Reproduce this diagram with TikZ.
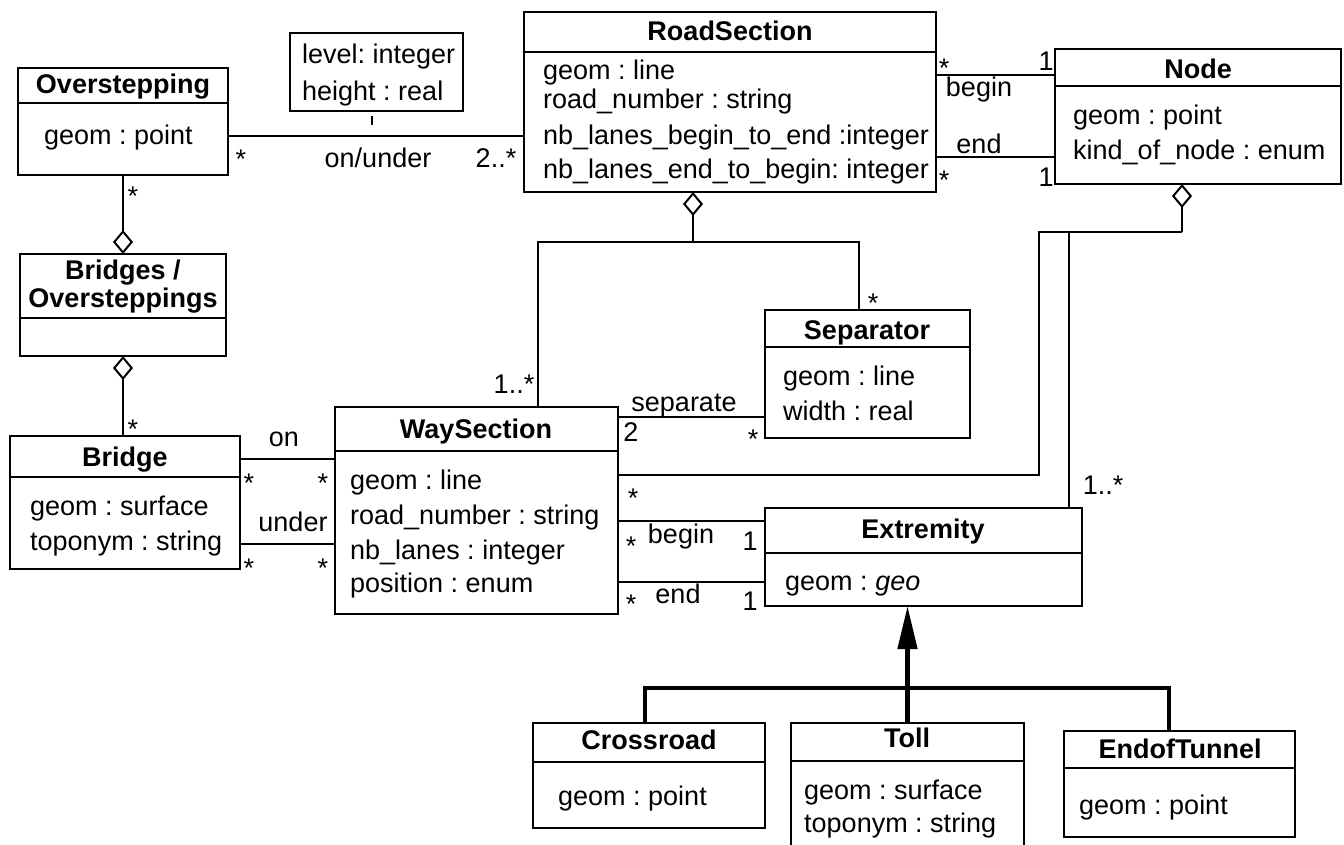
\documentclass[tikz,border=0pt]{standalone}
\usepackage{fontspec}
\setmainfont{Liberation Sans}
\usetikzlibrary{arrows.meta,fit}
\frenchspacing
\begin{document}
\begin{tikzpicture}[x=1pt,y=-1pt,
  ln/.style={line width=2pt},
  cls/.style={draw, line width=2pt, inner sep=0pt, outer sep=0pt},
  txt/.style={font=\fontsize{27}{32}\selectfont, inner sep=0pt, text height=19pt, text depth=5pt},
  ttl/.style={txt, font=\fontsize{27}{32}\selectfont\bfseries},
  att/.style={txt, anchor=west},
  lbl/.style={txt},
  star/.style={txt, yshift=-8pt},
  agg/.style={ln, -{Diamond[open, length=24pt, width=20pt]}},
  gen/.style={line width=4.5pt},
]
\useasboundingbox (0,0) rectangle (1344,844);
\clip (0,0) rectangle (1344,844);

% ---------- classes ----------
% Overstepping
\node[cls, fit={(18,68) (228,175)}] (ov) {};
\draw[ln] (ov.west |- 0,103) -- (ov.east |- 0,103);
\node[ttl] (ovt) at (123,86) {Overstepping};
\node[att] (ova) at (44,137) {geom : point};

% association attributes box
\node[cls, fit={(290,33) (463,111)}] (as) {};
\node[att] (as1) at (302,56) {level: integer};
\node[att] (as2) at (302,93) {height : real};

% RoadSection
\node[cls, fit={(524,12) (936,192)}] (rs) {};
\draw[ln] (rs.west |- 0,52) -- (rs.east |- 0,52);
\node[ttl] (rst) at (730,33) {RoadSection};
\node[att] (rs1) at (543,72) {geom : line};
\node[att] (rs2) at (543,101) {road\_number : string};
\node[att] (rs3) at (543,137) {nb\_lanes\_begin\_to\_end :integer};
\node[att] (rs4) at (543,171) {nb\_lanes\_end\_to\_begin: integer};

% Node
\node[cls, fit={(1055,49) (1341,184)}] (nd) {};
\draw[ln] (nd.west |- 0,86) -- (nd.east |- 0,86);
\node[ttl] (ndt) at (1198,71) {Node};
\node[att] (nd1) at (1073,117) {geom : point};
\node[att] (nd2) at (1073,152) {kind\_of\_node : enum};

% Bridges / Oversteppings
\node[cls, fit={(20,254) (226,356)}] (bo) {};
\draw[ln] (bo.west |- 0,318) -- (bo.east |- 0,318);
\node[ttl] (bot1) at (123,272) {Bridges /};
\node[ttl] (bot2) at (123,300) {Oversteppings};

% Bridge
\node[cls, fit={(10,436) (240,569)}] (br) {};
\draw[ln] (br.west |- 0,477) -- (br.east |- 0,477);
\node[ttl] (brt) at (125,459) {Bridge};
\node[att] (br1) at (30,508) {geom : surface};
\node[att] (br2) at (30,543) {toponym : string};

% WaySection
\node[cls, fit={(335,407) (618,614)}] (ws) {};
\draw[ln] (ws.west |- 0,451) -- (ws.east |- 0,451);
\node[ttl] (wst) at (476,431) {WaySection};
\node[att] (ws1) at (350,482) {geom : line};
\node[att] (ws2) at (350,517) {road\_number : string};
\node[att] (ws3) at (350,552) {nb\_lanes : integer};
\node[att] (ws4) at (350,585) {position : enum};

% Separator
\node[cls, fit={(765,310) (970,438)}] (sp) {};
\draw[ln] (sp.west |- 0,347) -- (sp.east |- 0,347);
\node[ttl] (spt) at (867,332) {Separator};
\node[att] (sp1) at (783,378) {geom : line};
\node[att] (sp2) at (783,413) {width : real};

% Extremity
\node[cls, fit={(765,508) (1082,606)}] (ex) {};
\draw[ln] (ex.west |- 0,553) -- (ex.east |- 0,553);
\node[ttl] (ext) at (923,531) {Extremity};
\node[att] (ex1) at (785,583) {geom : \textit{geo}};

% Crossroad
\node[cls, fit={(533,723) (765,828)}] (cr) {};
\draw[ln] (cr.west |- 0,762) -- (cr.east |- 0,762);
\node[ttl] (crt) at (649,742) {Crossroad};
\node[att] (cr1) at (558,798) {geom : point};

% Toll
\node[cls, fit={(791,723) (1024,880)}] (tl) {};
\draw[ln] (tl.west |- 0,761) -- (tl.east |- 0,761);
\node[ttl] (tlt) at (907,740) {Toll};
\node[att] (tl1) at (804,792) {geom : surface};
\node[att] (tl2) at (804,825) {toponym : string};

% EndofTunnel
\node[cls, fit={(1064,731) (1295,837)}] (et) {};
\draw[ln] (et.west |- 0,768) -- (et.east |- 0,768);
\node[ttl] (ett) at (1180,751) {EndofTunnel};
\node[att] (et1) at (1079,807) {geom : point};

% ---------- helper coordinates ----------
\coordinate (h1) at (0,136);
\coordinate (h2) at (0,75);
\coordinate (h3) at (0,157);
\coordinate (h4) at (0,459);
\coordinate (h5) at (0,544);
\coordinate (h6) at (0,417);
\coordinate (h7) at (0,475);
\coordinate (h8) at (0,521);
\coordinate (h9) at (0,582);
\coordinate (k1) at (538,242);
\coordinate (k2) at (693,242);
\coordinate (k3) at (859,242);
\coordinate (k4) at (1039,232);
\coordinate (k5) at (1069,232);
\coordinate (k6) at (1182,232);
\coordinate (gl) at (645,688);
\coordinate (gr) at (1169,688);

% ---------- connectors ----------
\draw[ln] (ov.east |- h1) -- (rs.west |- h1);
\draw[ln, dash pattern=on 0pt off 5pt on 9pt off 40pt] (as.south -| 372,0) -- (372,136);
\draw[agg] (ov.south) -- (bo.north);
\draw[agg] (br.north -| bo.south) -- (bo.south);
\draw[ln] (rs.east |- h2) -- (nd.west |- h2);
\draw[ln] (rs.east |- h3) -- (nd.west |- h3);
\draw[ln] (br.east |- h4) -- (ws.west |- h4);
\draw[ln] (br.east |- h5) -- (ws.west |- h5);
\draw[ln] (ws.north -| k1) -- (k1) -- (k3) -- (sp.north -| k3);
\draw[agg] (k2) -- (rs.south -| k2);
\draw[ln] (ws.east |- h6) -- (sp.west |- h6);
\draw[ln] (ws.east |- h7) -| (k4) -- (k6);
\draw[agg] (k6) -- (nd.south -| k6);
\draw[ln] (ex.north -| k5) -- (k5);
\draw[ln] (ws.east |- h8) -- (ex.west |- h8);
\draw[ln] (ws.east |- h9) -- (ex.west |- h9);
\draw[gen] (cr.north -| gl) -- (gl) -- (gr) -- (et.north -| gr);
\draw[gen, -{Triangle[length=43pt, width=19pt]}] (tl.north) -- (ex.south -| tl.north);

% ---------- labels ----------
\node[star] (l1) at (241,153) {*};
\node[lbl] (l2) at (378,160) {on/under};
\node[lbl] (l3) at (496,160) {2..*};
\node[star] (l4) at (133,190) {*};
\node[star] (l5) at (133,423) {*};
\node[star] (l6) at (944,62) {*};
\node[lbl] (l7) at (1046,63) {1};
\node[lbl] (l8) at (979,89) {begin};
\node[lbl] (l9) at (979,146) {end};
\node[star] (l10) at (944,174) {*};
\node[lbl] (l11) at (1046,179) {1};
\node[lbl] (l12) at (514,386) {1..*};
\node[star] (l13) at (873,297) {*};
\node[lbl] (l14) at (684,404) {separate};
\node[lbl] (l15) at (631,434) {2};
\node[star] (l16) at (753,433) {*};
\node[star] (l17) at (633,492) {*};
\node[lbl] (l18) at (1103,487) {1..*};
\node[star] (l19) at (631,540) {*};
\node[lbl] (l20) at (681,536) {begin};
\node[lbl] (l21) at (750,543) {1};
\node[star] (l22) at (631,598) {*};
\node[lbl] (l23) at (678,596) {end};
\node[lbl] (l24) at (750,603) {1};
\node[lbl] (l25) at (284,439) {on};
\node[star] (l26) at (249,477) {*};
\node[star] (l27) at (323,477) {*};
\node[lbl] (l28) at (293,524) {under};
\node[star] (l29) at (249,562) {*};
\node[star] (l30) at (323,562) {*};
\end{tikzpicture}
\end{document}
